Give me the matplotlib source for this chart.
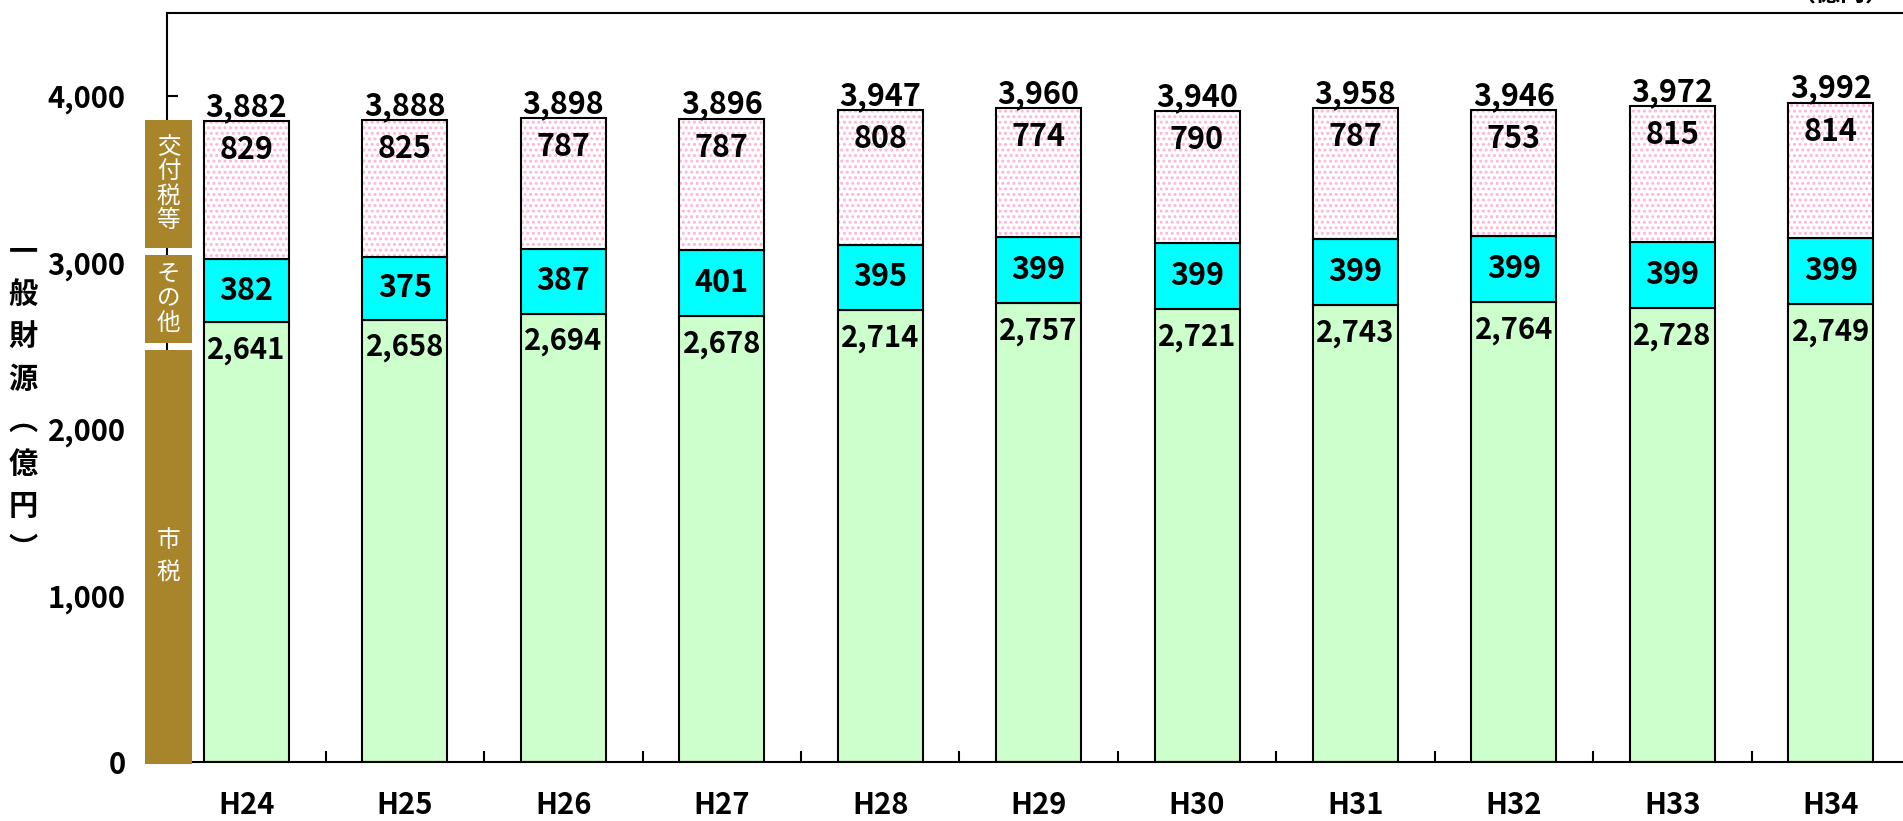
import matplotlib
matplotlib.use("Agg")
import matplotlib.pyplot as plt
from matplotlib.patches import Rectangle
import numpy as np

plt.rcParams['font.family'] = ['Noto Sans CJK JP', 'DejaVu Sans']
plt.rcParams['hatch.linewidth'] = 1.4

# data
years = ['H24', 'H25', 'H26', 'H27', 'H28', 'H29', 'H30', 'H31', 'H32', 'H33', 'H34']
shizei = [2641, 2658, 2694, 2678, 2714, 2757, 2721, 2743, 2764, 2728, 2749]
sonota = [382, 375, 387, 401, 395, 399, 399, 399, 399, 399, 399]
koufu = [829, 825, 787, 787, 808, 774, 790, 787, 753, 815, 814]
totals = [3882, 3888, 3898, 3896, 3947, 3960, 3940, 3958, 3946, 3972, 3992]

W, H = 1903, 821
fig = plt.figure(figsize=(W / 100, H / 100), dpi=100)
ax = fig.add_axes([167.25 / W, 1 - 762 / H, (1910 - 167.25) / W, (762 - 13) / H])

x = np.arange(len(years))
bw = 0.536
s1 = np.array(shizei)
s2 = np.array(sonota)
s3 = np.array(koufu)

ax.bar(x, s1, bw, color='#CCFFCC', edgecolor='black', linewidth=1.5, zorder=2)
ax.bar(x, s2, bw, bottom=s1, color='#00FFFF', edgecolor='black', linewidth=1.5, zorder=2)
# dotted top segment: hatch layer, then outline
ax.bar(x, s3, bw, bottom=s1 + s2, color='white', edgecolor='#FFB3D9', hatch='...',
       linewidth=0, zorder=2)
ax.bar(x, s3, bw, bottom=s1 + s2, color='none', edgecolor='black', linewidth=1.5, zorder=2.1)

lab = dict(fontsize=22, fontweight='bold', ha='center', color='black', zorder=5)
for i in range(len(years)):
    ax.annotate(f'{shizei[i]:,}', (x[i], s1[i]), xytext=(0, -20), textcoords='offset points',
                va='center', fontsize=21, fontweight='bold', ha='center', zorder=5)
    ax.annotate(f'{sonota[i]}', (x[i], s1[i] + s2[i] / 2), xytext=(0, 0),
                textcoords='offset points', va='center', **lab)
    ax.annotate(f'{koufu[i]}', (x[i], s1[i] + s2[i] + s3[i]), xytext=(0, -21),
                textcoords='offset points', va='center', **lab)
    ax.annotate(f'{totals[i]:,}', (x[i], s1[i] + s2[i] + s3[i]), xytext=(0, -1.5),
                textcoords='offset points', va='bottom', fontsize=22, fontweight='bold',
                ha='center', zorder=5)

ax.set_xlim(-0.5, 10.5)
ax.set_ylim(0, 4500)
ax.set_yticks([0, 1000, 2000, 3000, 4000])
ax.set_yticklabels(['0', '1,000', '2,000', '3,000', '4,000'], fontsize=21, fontweight='bold')
ax.set_xticks(x)
ax.set_xticklabels(years, fontsize=21, fontweight='bold')
ax.set_xticks(np.arange(0.5, 10.5, 1), minor=True)
ax.tick_params(axis='x', which='major', length=0, pad=20)
ax.tick_params(axis='x', which='minor', direction='in', length=8, width=1.5)
ax.tick_params(axis='y', direction='in', length=8, width=1.5, pad=30)
for sp in ['left', 'bottom', 'top']:
    ax.spines[sp].set_linewidth(1.5)
ax.spines['right'].set_visible(False)

# brown legend boxes on the y axis
bx0 = -0.5 + (145 - 167.25) / 158.5
bwid = 47 / 158.5
for y0, y1 in [(3087, 3856), (2517, 3045), (-10, 2474)]:
    ax.add_patch(Rectangle((bx0, y0), bwid, y1 - y0, facecolor='#A8842A', edgecolor='none',
                           clip_on=False, zorder=4))
ax.text(bx0 + bwid / 2, (3087 + 3856) / 2, '交\n付\n税\n等', color='white', fontsize=17,
        ha='center', va='center', linespacing=1.08, zorder=6)
ax.text(bx0 + bwid / 2, (2517 + 3045) / 2, 'そ\nの\n他', color='white', fontsize=17,
        ha='center', va='center', linespacing=1.08, zorder=6)
ax.text(bx0 + bwid / 2, 1237, '市\n税', color='white', fontsize=17,
        ha='center', va='center', linespacing=1.5, zorder=6)

# vertical y label
fig.text(23 / W, 1 - 400 / H, '一\n般\n財\n源\n︵\n億\n円\n︶', fontsize=21, fontweight='bold',
         ha='center', va='center', linespacing=1.52)

fig.text(1890 / W, 1 - 6 / H, '（億円）', fontsize=18, fontweight='bold', ha='right', va='bottom')

fig.savefig('out.png', dpi=100)
